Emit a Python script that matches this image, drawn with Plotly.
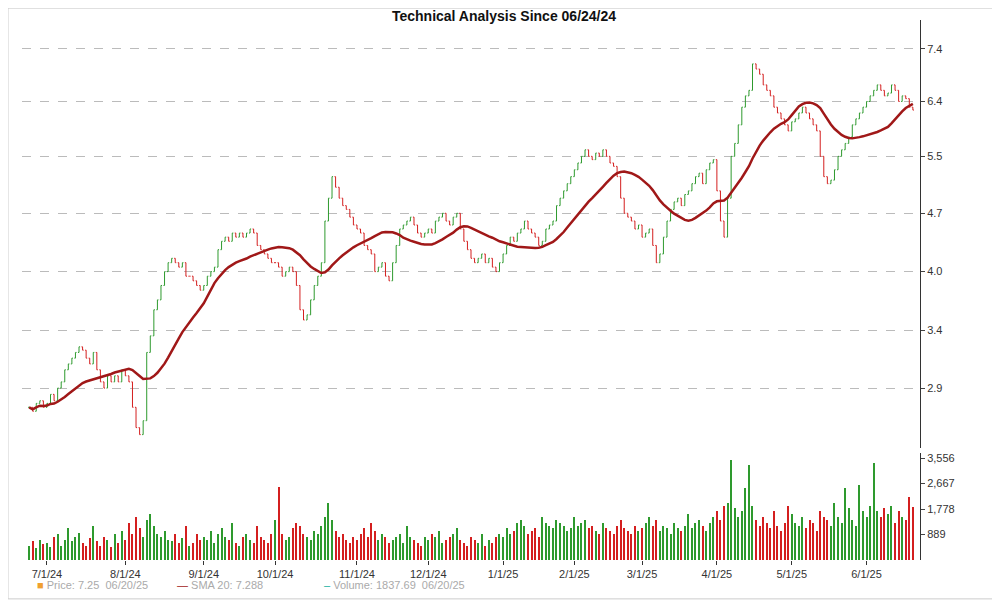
import pandas as pd
import plotly.graph_objects as go
from plotly.subplots import make_subplots

close_jun24 = [2.75, 2.72, 2.78, 2.80, 2.75]
close_jul = [2.78, 2.85, 2.80, 2.90, 2.95, 3.05, 3.10, 3.15, 3.20, 3.25, 3.22, 3.15, 3.10, 3.20, 3.05, 2.95, 2.90, 3.00, 2.95, 3.00, 2.95, 3.05]
close_aug = [3.00, 2.95, 2.75, 2.60, 2.55, 2.65, 3.20, 3.35, 3.60, 3.70, 3.85, 4.00, 4.10, 4.15, 4.10, 4.05, 4.10, 3.95, 3.95, 3.90, 3.85, 3.80]
close_sep = [3.85, 3.95, 4.00, 4.05, 4.25, 4.35, 4.40, 4.35, 4.45, 4.40, 4.45, 4.40, 4.45, 4.50, 4.45, 4.30, 4.25, 4.20, 4.15, 4.10]
close_oct = [4.10, 4.05, 3.95, 4.00, 4.05, 4.00, 3.85, 3.60, 3.50, 3.55, 3.70, 3.85, 3.95, 4.10, 4.60, 4.90, 5.20, 5.05, 4.90, 4.80, 4.75, 4.65, 4.55]
close_nov = [4.50, 4.45, 4.30, 4.25, 4.20, 4.00, 4.05, 4.10, 3.95, 3.90, 4.10, 4.30, 4.50, 4.55, 4.60, 4.65, 4.55, 4.45, 4.40, 4.45]
close_dec = [4.50, 4.45, 4.60, 4.65, 4.70, 4.60, 4.55, 4.65, 4.70, 4.50, 4.35, 4.25, 4.15, 4.10, 4.15, 4.20, 4.10, 4.15, 4.05, 4.00, 4.10]
close_jan = [4.20, 4.30, 4.40, 4.35, 4.45, 4.50, 4.60, 4.50, 4.45, 4.40, 4.30, 4.35, 4.50, 4.55, 4.60, 4.80, 4.90, 5.00, 5.10, 5.20]
close_feb = [5.30, 5.40, 5.50, 5.60, 5.50, 5.45, 5.55, 5.50, 5.60, 5.50, 5.40, 5.35, 5.20, 4.90, 4.70, 4.65, 4.60, 4.50, 4.55]
close_mar = [4.40, 4.45, 4.50, 4.30, 4.10, 4.20, 4.40, 4.60, 4.75, 4.85, 4.90, 4.80, 4.95, 5.00, 5.10, 5.20, 5.25, 5.10, 5.30, 5.40, 5.45]
close_apr = [5.00, 4.60, 4.40, 4.90, 5.50, 5.70, 6.00, 6.30, 6.50, 6.60, 7.10, 7.00, 6.90, 6.70, 6.60, 6.50, 6.30, 6.20, 6.10, 6.00, 5.90]
close_may = [6.05, 6.10, 6.20, 6.30, 6.20, 6.10, 6.00, 5.90, 5.50, 5.20, 5.10, 5.15, 5.30, 5.50, 5.60, 5.70, 5.80, 6.00, 6.10, 6.20, 6.30]
close_jun25 = [6.40, 6.50, 6.60, 6.70, 6.60, 6.50, 6.55, 6.70, 6.60, 6.40, 6.50, 6.45, 6.30, 6.25]

vol_jun24 = [500, 650, 400, 700, 550]
vol_jul = [600, 450, 800, 900, 500, 700, 1100, 650, 800, 950, 600, 500, 750, 1200, 650, 500, 800, 700, 450, 900, 600, 1000]
vol_aug = [700, 1300, 900, 1500, 1100, 800, 1400, 1600, 1200, 900, 800, 1000, 700, 650, 900, 600, 750, 1200, 500, 600, 900, 700]
vol_sep = [800, 700, 1000, 600, 900, 1100, 800, 700, 1300, 600, 500, 800, 900, 700, 600, 1200, 800, 700, 600, 900]
vol_oct = [1400, 2550, 900, 700, 800, 1100, 1300, 1200, 900, 800, 700, 1000, 900, 1200, 1500, 2000, 1400, 1000, 800, 900, 700, 600, 800]
vol_nov = [700, 900, 1100, 800, 1300, 1000, 700, 900, 800, 600, 700, 800, 900, 600, 1200, 800, 700, 600, 500, 800]
vol_dec = [700, 900, 800, 1000, 600, 700, 800, 900, 1100, 700, 600, 500, 800, 700, 600, 900, 500, 700, 600, 800, 900]
vol_jan = [800, 1100, 900, 1000, 1300, 1400, 1200, 900, 1000, 1100, 800, 1500, 1300, 1200, 1100, 1400, 1300, 1200, 1000, 1100]
vol_feb = [1500, 1200, 1300, 1400, 1100, 1200, 1000, 900, 1300, 1100, 1000, 900, 1200, 1400, 1100, 1000, 900, 1200, 1000]
vol_mar = [1100, 1300, 1500, 1200, 1400, 1000, 1200, 1100, 900, 1300, 1100, 1000, 1200, 1600, 1100, 1300, 1400, 1200, 1000, 1300, 1500]
vol_apr = [1700, 1400, 1900, 2000, 3500, 1800, 1500, 1700, 2500, 3300, 1900, 1400, 1200, 1500, 1300, 1100, 1700, 1200, 1000, 1300, 1900]
vol_may = [1600, 1300, 1200, 1500, 1100, 1400, 1300, 1000, 1700, 1500, 1400, 1200, 2000, 1500, 1300, 2500, 1800, 1400, 1200, 2600, 1700]
vol_jun25 = [1500, 1900, 3400, 1700, 1500, 1800, 1600, 1900, 1300, 1700, 1500, 1400, 2200, 1837.69]

closes = (close_jun24 + close_jul + close_aug + close_sep + close_oct + close_nov + close_dec
          + close_jan + close_feb + close_mar + close_apr + close_may + close_jun25)
volumes = (vol_jun24 + vol_jul + vol_aug + vol_sep + vol_oct + vol_nov + vol_dec
           + vol_jan + vol_feb + vol_mar + vol_apr + vol_may + vol_jun25)

holidays = ["2024-07-04", "2024-09-02", "2024-11-28", "2024-12-25", "2025-01-01", "2025-01-09",
            "2025-01-20", "2025-02-17", "2025-04-18", "2025-05-26", "2025-06-19"]
dates = [d for d in pd.bdate_range("2024-06-24", "2025-06-20") if d.strftime("%Y-%m-%d") not in holidays]
n = min(len(dates), len(closes), len(volumes))
dates, closes, volumes = dates[:n], closes[:n], volumes[:n]

opens = [closes[0]] + closes[:-1]
highs = [max(o, c) for o, c in zip(opens, closes)]
lows = [min(o, c) for o, c in zip(opens, closes)]
sma = pd.Series(closes).rolling(20, min_periods=1).mean()
GREEN, RED = "#2e9a2e", "#d41f1f"
vcolors = [GREEN if c >= o else RED for o, c in zip(opens, closes)]

fig = make_subplots(rows=2, cols=1, shared_xaxes=True, row_heights=[0.8, 0.2], vertical_spacing=0.01)
fig.add_trace(go.Ohlc(x=dates, open=opens, high=highs, low=lows, close=closes, tickwidth=0.3,
                      increasing_line_color=GREEN, decreasing_line_color=RED, line_width=1,
                      showlegend=False), 1, 1)
fig.add_trace(go.Scatter(x=dates, y=sma, mode="lines", line=dict(color="#a01818", width=2.5),
                         showlegend=False), 1, 1)
fig.add_trace(go.Bar(x=dates, y=volumes, marker_color=vcolors, marker_line_width=0, width=86400000 * 0.3,
                     showlegend=False), 2, 1)

tickvals = ["2024-07-01", "2024-08-01", "2024-09-03", "2024-10-01", "2024-11-01", "2024-12-02",
            "2025-01-02", "2025-02-03", "2025-03-03", "2025-04-01", "2025-05-01", "2025-06-02"]
ticktext = ["7/1/24", "8/1/24", "9/1/24", "10/1/24", "11/1/24", "12/1/24", "1/1/25", "2/1/25",
            "3/1/25", "4/1/25", "5/1/25", "6/1/25"]
rb = [dict(bounds=["sat", "mon"]), dict(values=holidays)]
fig.update_xaxes(rangebreaks=rb, showgrid=False, rangeslider_visible=False,
                 range=["2024-06-20", "2025-06-24"], tickvals=tickvals, ticktext=ticktext,
                 tickfont=dict(size=11, color="#333"), ticks="outside", ticklen=4, tickcolor="#333")
fig.update_xaxes(showticklabels=False, ticks="", row=1, col=1)
fig.update_yaxes(type="log", side="right", range=[0.3909, 0.9039], tickvals=[2.9, 3.4, 4.0, 4.7, 5.5, 6.4, 7.4],
                 ticktext=["2.9", "3.4", "4.0", "4.7", "5.5", "6.4", "7.4"],
                 showgrid=True, gridcolor="#bbb", griddash="dash", showline=True, linecolor="#333",
                 ticks="outside", ticklen=4, tickfont=dict(size=11, color="#333"), row=1, col=1)
fig.update_yaxes(side="right", range=[0, 3734], tickvals=[889, 1778, 2667, 3556], tickformat=",",
                 showgrid=False, showline=True, linecolor="#333", ticks="outside", ticklen=4,
                 tickfont=dict(size=11, color="#333"), row=2, col=1)

fig.update_layout(
    width=992, height=592, plot_bgcolor="white", paper_bgcolor="white",
    margin=dict(l=14, r=80, t=12, b=40), bargap=0,
    title=dict(text="<b>Technical Analysis Since 06/24/24</b>", x=0.5, y=0.994, yanchor="top", xanchor="center",
               font=dict(size=14, color="#111", family="Arial")),
    font=dict(family="Arial"),
    shapes=[dict(type="rect", xref="paper", yref="paper", x0=-0.0156, x1=1.088, y0=-0.072, y1=1.022,
                 line=dict(color="#ccc", width=1))],
    annotations=[
        dict(text="<span style='color:#f0a030'>■</span> Price: 7.25  06/20/25", x=0.014, y=-0.046, xref="paper",
             yref="paper", showarrow=False, xanchor="left", yanchor="middle", font=dict(size=11, color="#aaa")),
        dict(text="<span style='color:#a01818'>—</span> SMA 20: 7.288", x=0.17, y=-0.046, xref="paper",
             yref="paper", showarrow=False, xanchor="left", yanchor="middle", font=dict(size=11, color="#aaa")),
        dict(text="<span style='color:#20b0a0'>–</span> Volume: 1837.69  06/20/25", x=0.334, y=-0.046, xref="paper",
             yref="paper", showarrow=False, xanchor="left", yanchor="middle", font=dict(size=11, color="#aaa")),
    ],
)
fig.write_html("out.html")
